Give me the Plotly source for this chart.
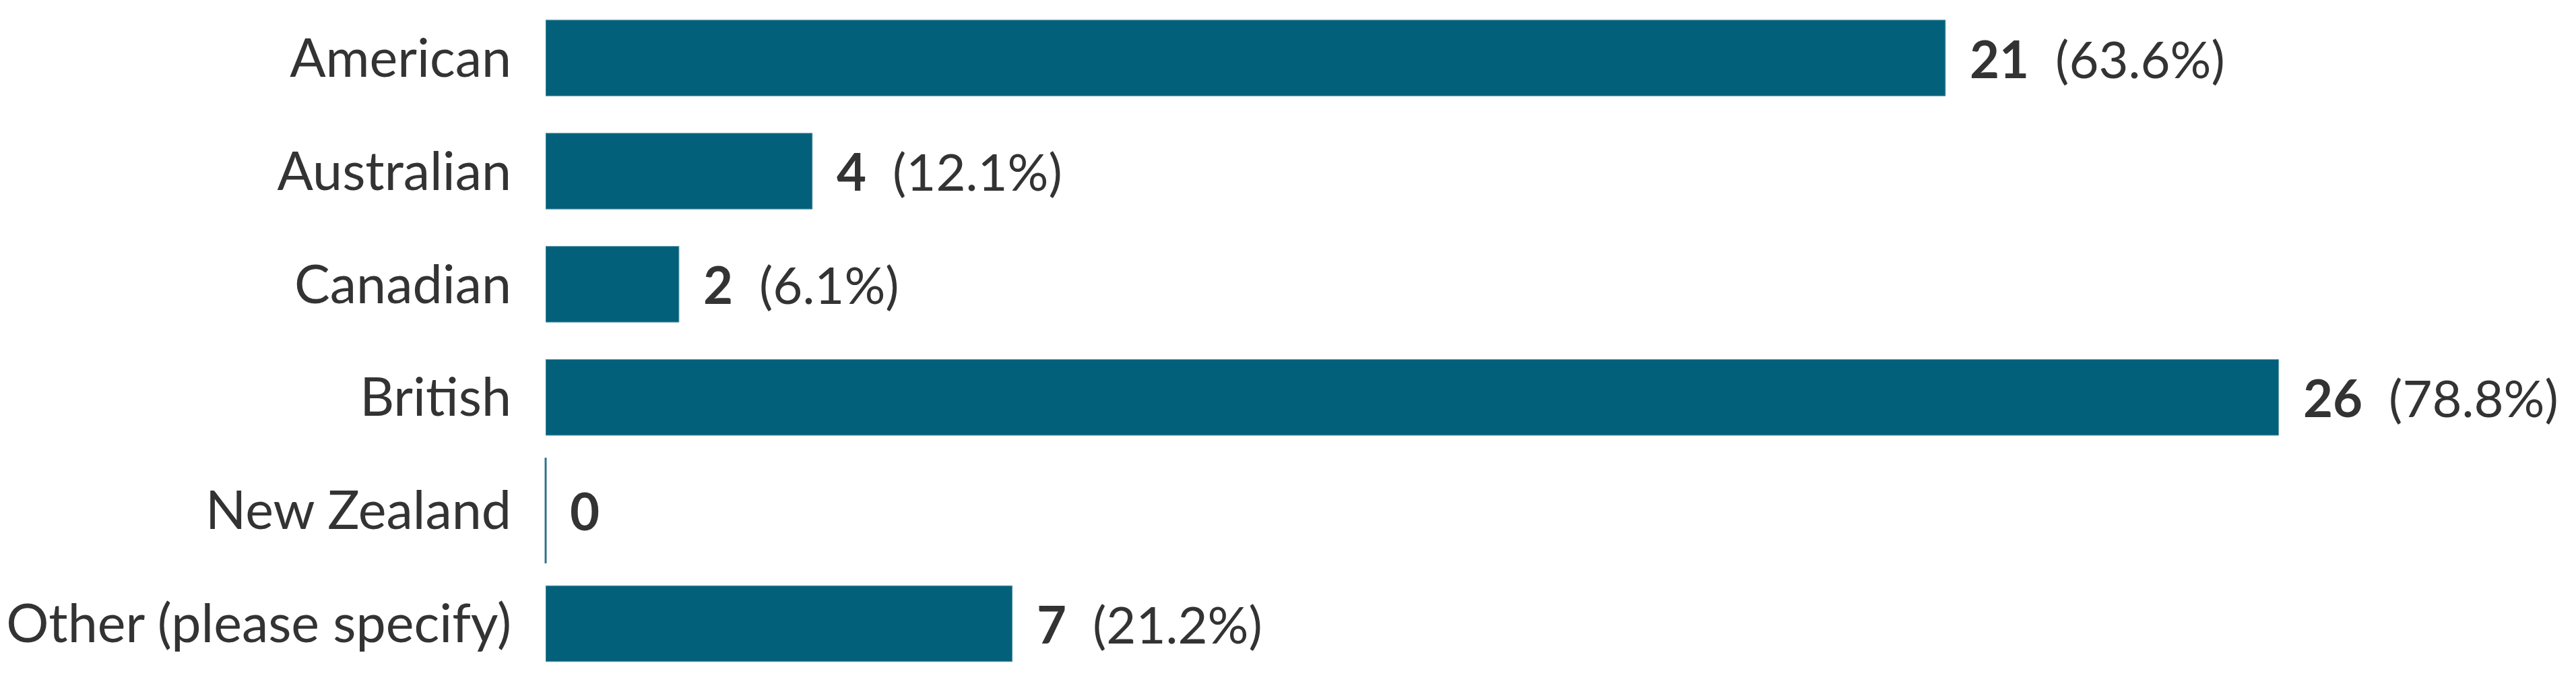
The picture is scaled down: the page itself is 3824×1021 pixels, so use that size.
import plotly.graph_objects as go

# Survey answers: which English variant
categories = ["American", "Australian", "Canadian", "British", "New Zealand", "Other (please specify)"]
counts = [21, 4, 2, 26, 0, 7]
percents = ["63.6%", "12.1%", "6.1%", "78.8%", "", "21.2%"]

bar_color = "#02607a"
text_color = "#333333"
font_family = "Lato"

fig = go.Figure()

fig.add_trace(go.Bar(
    x=counts, y=categories, orientation="h",
    marker=dict(color=bar_color, line=dict(color="#5f98a8", width=1)),
    width=0.67, hoverinfo="x+y",
))

# zero-count row still shows a thin stub at the axis
zero_x = [c for c in counts if c == 0]
zero_y = [cat for cat, c in zip(categories, counts) if c == 0]
fig.add_trace(go.Scatter(
    x=zero_x, y=zero_y, mode="markers",
    marker=dict(symbol="line-ns-open", size=112, color="#2f7288",
                line=dict(color="#2f7288", width=3)),
    hoverinfo="skip", cliponaxis=False,
))

# value labels next to each bar
for cat, c, p in zip(categories, counts, percents):
    label = f"<b>{c}</b>"
    if p:
        label += f"\u00a0\u00a0({p})"
    fig.add_annotation(
        x=c, y=cat, xref="x", yref="y", text=label, showarrow=False,
        xanchor="left", yanchor="middle", xshift=34,
        font=dict(family=font_family, size=76, color=text_color),
    )

# page body has an 8px margin, so the figure is a bit smaller than the window
fig.update_layout(
    width=3808, height=1005,
    margin=dict(l=802, r=0, t=0, b=0),
    paper_bgcolor="white", plot_bgcolor="white",
    showlegend=False,
    font=dict(family=font_family, size=78, color=text_color),
)
fig.update_xaxes(range=[0, 30.38], visible=False, fixedrange=True)
fig.update_yaxes(
    categoryorder="array", categoryarray=categories,
    range=[5.521, -0.465],
    showgrid=False, zeroline=False, showline=False,
    ticks="", ticklabelstandoff=50,
    tickfont=dict(family=font_family, size=79, color=text_color),
    fixedrange=True,
)

fig.write_html("out.html")
